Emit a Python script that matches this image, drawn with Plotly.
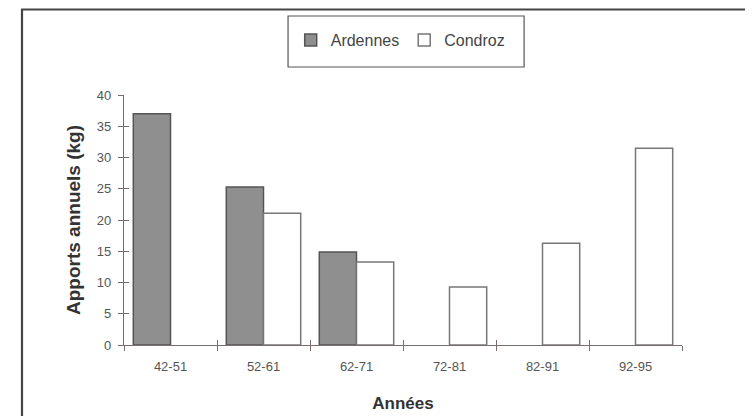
import plotly.graph_objects as go

categories = ["42-51", "52-61", "62-71", "72-81", "82-91", "92-95"]
ardennes = [37.0, 25.3, 14.9, None, None, None]
condroz = [None, 21.1, 13.3, 9.3, 16.3, 31.5]
y_ticks = [0, 5, 10, 15, 20, 25, 30, 35, 40]

axis_col = "#7a6c6c"
fig = go.Figure()
fig.add_trace(go.Bar(name="Ardennes", x=categories, y=ardennes,
                     marker=dict(color="#8f8f8f", line=dict(color="#555555", width=1.5))))
fig.add_trace(go.Bar(name="Condroz", x=categories, y=condroz,
                     marker=dict(color="#ffffff", line=dict(color="#777777", width=1.5))))
# invisible trace to carry the inner half of the crossing ticks
fig.add_trace(go.Scatter(x=categories, y=[None] * len(categories), xaxis="x2", yaxis="y2",
                         showlegend=False, hoverinfo="skip", mode="markers"))

fig.update_layout(
    width=745, height=408,
    margin=dict(l=116, r=71, t=87, b=71, autoexpand=False),
    paper_bgcolor="white", plot_bgcolor="white",
    barmode="group", bargap=0.2, bargroupgap=0,
    font=dict(family="Liberation Sans, Arial, sans-serif", color="#555555"),
    xaxis=dict(type="category", categoryorder="array", categoryarray=categories,
               range=[-0.5, 5.5], tickson="boundaries", ticks="outside", ticklen=5,
               tickcolor=axis_col, showline=True, linecolor=axis_col, linewidth=1.2,
               showgrid=False, zeroline=False, tickfont=dict(size=13, color="#555555"),
               ticklabelstandoff=9, automargin=False,
               title=dict(text="<b>Années</b>", font=dict(size=17, color="#333333"), standoff=24)),
    yaxis=dict(range=[0, 40], tickvals=y_ticks, ticks="outside", ticklen=5,
               tickcolor=axis_col, showline=True, linecolor=axis_col, linewidth=1.2,
               showgrid=False, zeroline=False, tickfont=dict(size=13, color="#555555"),
               ticklabelstandoff=4, automargin=False,
               title=dict(text="<b>Apports annuels (kg)</b>", font=dict(size=19, color="#333333"), standoff=11)),
    xaxis2=dict(type="category", categoryorder="array", categoryarray=categories,
                range=[-0.5, 5.5], overlaying="x", tickson="boundaries", ticks="inside", ticklen=5,
                tickcolor=axis_col, showticklabels=False, showgrid=False, zeroline=False, showline=False),
    yaxis2=dict(range=[0, 40], tickvals=y_ticks, overlaying="y", ticks="inside", ticklen=5,
                tickcolor=axis_col, showticklabels=False, showgrid=False, zeroline=False, showline=False),
    legend=dict(orientation="h", x=0.495, xanchor="center", y=1.22, yanchor="middle",
                font=dict(size=16, color="#444444"), bgcolor="rgba(0,0,0,0)", borderwidth=0,
                itemwidth=30),
    shapes=[
        dict(type="rect", xref="paper", yref="paper", x0=0.294, x1=0.717, y0=1.112, y1=1.316,
             line=dict(color="#555555", width=1.2), fillcolor="rgba(0,0,0,0)"),
        dict(type="rect", xref="paper", yref="paper", x0=-0.1828, x1=1.1201, y0=-0.4, y1=1.342,
             line=dict(color="#444444", width=2.2), fillcolor="rgba(0,0,0,0)"),
    ],
)

fig.write_html("out.html")
